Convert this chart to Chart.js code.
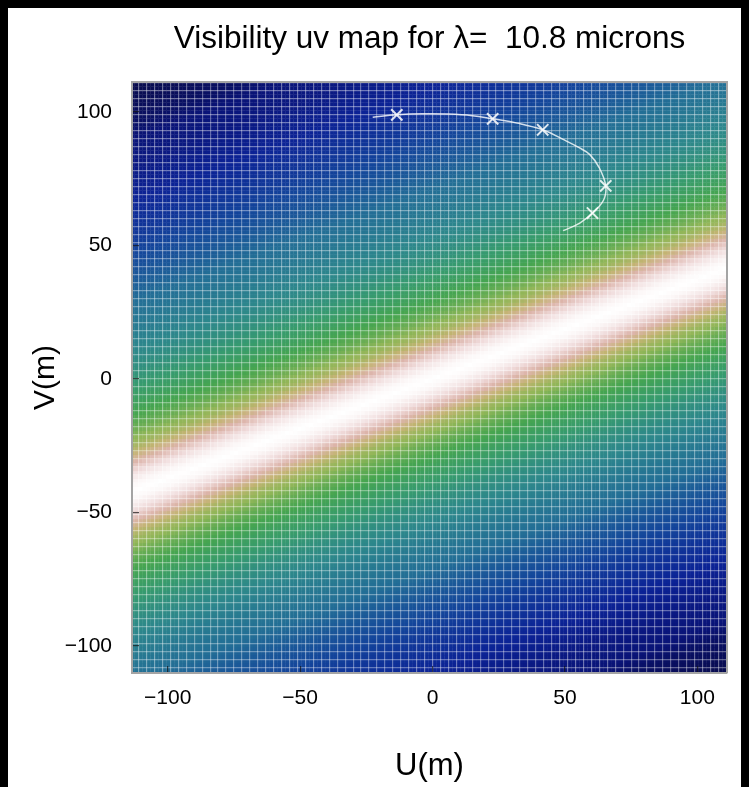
<!DOCTYPE html>
<html lang="en">
<head>
    <meta charset="UTF-8">
    <title>Visibility uv map</title>
    <script src="https://cdn.jsdelivr.net/npm/chart.js"></script>
    <style>
        html, body { margin: 0; padding: 0; background: #000; }
        #panel { position: absolute; left: 8px; top: 8px; width: 733px; height: 779px; background: #fff; }
    </style>
</head>
<body>
<div id="panel"><canvas id="uvChart"></canvas></div>

<script>
    // axis ranges (m) and tick labels
    const uRange = [-113.5, 111.2];
    const vRange = [-110.2, 111.2];
    const uTicks = [-100, -50, 0, 50, 100];
    const vTicks = [-100, -50, 0, 50, 100];

    // the bright ridge runs along V = ridgeSlope * U
    const ridgeSlope = 0.373;
    // visibility read across the ridge, one value every bandStep m of vertical offset
    const bandStep = 3;
    const bandVis = [1.00, 0.97, 0.90, 0.80, 0.68, 0.56, 0.47, 0.42, 0.38, 0.35,
                     0.32, 0.29, 0.265, 0.24, 0.22, 0.20, 0.185, 0.17, 0.158, 0.146,
                     0.135, 0.125, 0.115, 0.106, 0.098, 0.09, 0.083, 0.076, 0.07, 0.064,
                     0.058, 0.053, 0.048, 0.044, 0.040, 0.036, 0.032, 0.028, 0.025, 0.022,
                     0.019, 0.016, 0.014, 0.012, 0.010, 0.008, 0.006, 0.005, 0.004, 0.003,
                     0.002, 0.001, 0.0, 0.0];

    // uv track of the baseline and the observed points on it
    const trackU = [-22.6, -13.5, -3.8, 6.0, 15.0, 22.7, 32.0, 41.6, 49.1, 55.0, 59.4, 63.0, 65.4, 64.6, 60.4, 55.6, 49.3];
    const trackV = [98.0, 98.9, 99.3, 99.2, 98.6, 97.4, 95.8, 93.3, 89.8, 86.8, 84.0, 79.0, 72.3, 67.0, 62.1, 58.3, 55.5];
    const obsU = [-13.5, 22.7, 41.6, 65.4, 60.4];
    const obsV = [98.9, 97.4, 93.3, 72.3, 62.1];

    // colour scale of the map
    const levelVis = [0.0, 0.01, 0.03, 0.06, 0.10, 0.16, 0.24, 0.33, 0.44, 0.58, 0.72, 0.86, 1.0];
    const levelRGB = [[8, 10, 70], [10, 20, 120], [12, 35, 150], [20, 70, 155], [35, 110, 150],
                      [45, 135, 140], [55, 155, 110], [70, 165, 80], [145, 182, 88], [195, 180, 115],
                      [220, 180, 170], [240, 220, 220], [255, 255, 255]];

    function visColor(vis) {
        for (let k = 1; k < levelVis.length; k++) {
            if (vis <= levelVis[k]) {
                const t = (vis - levelVis[k - 1]) / (levelVis[k] - levelVis[k - 1]);
                const a = levelRGB[k - 1], b = levelRGB[k];
                return 'rgb(' + [0, 1, 2].map(i => Math.round(a[i] + (b[i] - a[i]) * t)).join(',') + ')';
            }
        }
        return 'rgb(255,255,255)';
    }

    // visibility at a vertical offset d from the ridge (linear between read values)
    function bandAt(d) {
        const x = Math.abs(d) / bandStep;
        const i = Math.floor(x);
        if (i >= bandVis.length - 1) return bandVis[bandVis.length - 1];
        return bandVis[i] + (bandVis[i + 1] - bandVis[i]) * (x - i);
    }

    const cellSize = 1.5;
    const meshStep = 3;
    const cells = [];
    const cellColors = [];
    const u0 = Math.floor(uRange[0] / cellSize) * cellSize + cellSize / 2;
    const v0 = Math.floor(vRange[0] / cellSize) * cellSize + cellSize / 2;
    for (let v = v0; v - cellSize / 2 < vRange[1]; v += cellSize) {
        for (let u = u0; u - cellSize / 2 < uRange[1]; u += cellSize) {
            cells.push({x: u, y: v});
            cellColors.push(visColor(bandAt(v - ridgeSlope * u)));
        }
    }

    function meshTicks(range) {
        const t = [];
        for (let m = Math.ceil(range[0] / meshStep) * meshStep; m <= range[1]; m += meshStep) t.push({value: m});
        return t;
    }

    const font = 'Liberation Sans, Arial, Helvetica, sans-serif';
    const frame = {display: true, color: '#a4a4a4', width: 2, z: 2};
    const minus = v => String(v).replace('-', '\u2212');
    const inTicks = {display: true, z: 2, drawOnChartArea: false, drawTicks: true, tickLength: -7, color: 'rgba(20,20,20,0.7)', lineWidth: 1.2};
    const mesh = {z: 1, color: 'rgba(255,255,255,0.36)', lineWidth: 1.2, drawTicks: false};

    new Chart(document.getElementById('uvChart'), {
        type: 'scatter',
        data: {
            datasets: [
                {
                    data: trackU.map((u, i) => ({x: u, y: trackV[i]})),
                    showLine: true,
                    tension: 0.4,
                    borderColor: 'rgba(255,255,255,0.8)',
                    borderWidth: 1.5,
                    pointRadius: 0,
                    clip: 0
                },
                {
                    data: obsU.map((u, i) => ({x: u, y: obsV[i]})),
                    pointStyle: 'crossRot',
                    pointRadius: 8,
                    pointBorderWidth: 2,
                    pointBorderColor: 'rgba(255,255,255,0.85)',
                    clip: 0
                },
                {
                    data: cells,
                    pointStyle: 'rect',
                    pointRadius: 3.1,
                    pointBorderWidth: 0,
                    pointBackgroundColor: cellColors,
                    clip: 0
                }
            ]
        },
        options: {
            responsive: true,
            maintainAspectRatio: false,
            animation: false,
            events: [],
            layout: {padding: 0},
            plugins: {
                legend: {display: false},
                tooltip: {enabled: false},
                title: {
                    display: true,
                    fullSize: false,
                    text: 'Visibility uv map for \u03bb=  10.8 microns',
                    color: '#000',
                    font: {family: font, size: 31.5, weight: 'normal'},
                    padding: {top: 12, bottom: 24.2}
                }
            },
            scales: {
                x: {
                    type: 'linear', position: 'bottom',
                    min: uRange[0], max: uRange[1],
                    afterBuildTicks: s => { s.ticks = uTicks.map(v => ({value: v})); },
                    afterFit: s => { s.height = 114; },
                    grid: inTicks,
                    border: frame,
                    ticks: {color: '#000', font: {family: font, size: 21}, padding: 20, callback: minus},
                    title: {display: true, text: 'U(m)', color: '#000', font: {family: font, size: 31}, padding: {bottom: 2}}
                },
                y: {
                    type: 'linear', position: 'left',
                    min: vRange[0], max: vRange[1],
                    afterBuildTicks: s => { s.ticks = vTicks.map(v => ({value: v})); },
                    afterFit: s => { s.width = 124; },
                    grid: inTicks,
                    border: frame,
                    ticks: {color: '#000', font: {family: font, size: 21}, padding: 27, callback: minus},
                    title: {display: true, text: 'V(m)', color: '#000', font: {family: font, size: 30}, padding: {top: 20}}
                },
                meshU: {
                    type: 'linear', position: 'top',
                    min: uRange[0], max: uRange[1],
                    afterBuildTicks: s => { s.ticks = meshTicks(uRange); },
                    afterFit: s => { s.height = 0; },
                    grid: mesh,
                    border: frame,
                    ticks: {display: false}
                },
                meshV: {
                    type: 'linear', position: 'right',
                    min: vRange[0], max: vRange[1],
                    afterBuildTicks: s => { s.ticks = meshTicks(vRange); },
                    afterFit: s => { s.width = 14; },
                    grid: mesh,
                    border: frame,
                    ticks: {display: false}
                }
            }
        }
    });
</script>
</body>
</html>
